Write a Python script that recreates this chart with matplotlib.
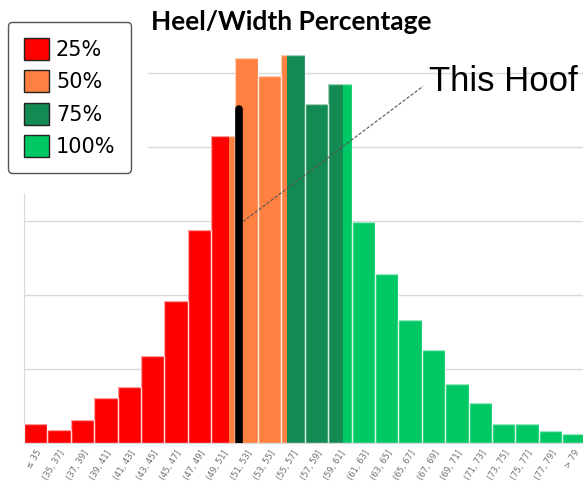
import matplotlib.pyplot as plt
from matplotlib.patches import Patch, Rectangle

# histogram bins (2% wide), counts
labels = ['≤ 35', '(35, 37]', '(37, 39]', '(39, 41]', '(41, 43]', '(43, 45]',
          '(45, 47]', '(47, 49]', '(49, 51]', '(51, 53]', '(53, 55]', '(55, 57]',
          '(57, 59]', '(59, 61]', '(61, 63]', '(63, 65]', '(65, 67]', '(67, 69]',
          '(69, 71]', '(71, 73]', '(73, 75]', '(75, 77]', '(77, 79]', '> 79']
bin_lo = [33 + 2 * i for i in range(len(labels))]
counts = [26, 18, 31, 61, 76, 118, 192, 288, 415, 520, 496, 524,
          458, 485, 299, 228, 166, 126, 80, 54, 26, 26, 16, 12]

# quartile boundaries of heel/width percentage
quartiles = [50.5, 55.5, 60.3]
groups = ['25%', '50%', '75%', '100%']
colors = ['#FF0000', '#FF8040', '#138A52', '#00C864']

hoof_value = 51.4
hoof_height = 451
pointer_from = (51.7, 299)
pointer_to = (67.1, 482)
label_at = (67.6, 488)


def to_pos(v):
    # percentage -> category axis position
    return (v - 33) / 2 - 0.5


fig = plt.figure(figsize=(5.83, 4.87), dpi=100)
ax = fig.add_axes([24 / 583, 44 / 487, 559 / 583, 443 / 487])

edges = [-1e9] + quartiles + [1e9]
for i, lo in enumerate(bin_lo):
    hi = lo + 2
    for g in range(4):
        a, b = max(lo, edges[g]), min(hi, edges[g + 1])
        if b > a:
            ax.bar(to_pos(a), counts[i], width=(b - a) / 2, align='edge',
                   color=colors[g], linewidth=0, zorder=2)
ax.bar(range(len(labels)), counts, width=1, facecolor='none',
       edgecolor=(1, 1, 1, 0.6), linewidth=1, zorder=3)

hx = to_pos(hoof_value)
ax.plot([hx, hx], [0, hoof_height], color='black', lw=5.5,
        solid_capstyle='round', zorder=4)
ax.plot([to_pos(pointer_from[0]), to_pos(pointer_to[0])],
        [pointer_from[1], pointer_to[1]], ls='--', color='#555555', lw=0.8,
        dashes=(3, 1.5), zorder=5)
ax.text(to_pos(label_at[0]), label_at[1], 'This Hoof', fontsize=25,
        family='Liberation Sans', va='center', ha='left', zorder=5)

ax.set_xlim(-0.5, -0.5 + 559 / 23.4)
ax.set_ylim(0, 443 / 0.74)
ax.set_yticks([100, 200, 300, 400, 500])
ax.set_yticklabels([])
ax.yaxis.grid(True, color='#D9D9D9', lw=1, zorder=0)
ax.set_axisbelow(True)
ax.tick_params(length=0)
ax.set_xticks(range(len(labels)))
ax.set_xticklabels(labels, rotation=58, ha='right', rotation_mode='anchor',
                   fontsize=6, color='#6F6F6F')
ax.tick_params(axis='x', pad=4)
for s in ['top', 'right']:
    ax.spines[s].set_visible(False)
for s in ['left', 'bottom']:
    ax.spines[s].set_color('#D9D9D9')

# white area behind the legend
fig.add_artist(Rectangle((0, 1 - 192 / 487), 147 / 583, 192 / 487,
                         transform=fig.transFigure, color='white', zorder=1))

fig.text(291 / 583, 1 - 22 / 487, 'Heel/Width Percentage', ha='center',
         va='center', fontsize=19, fontweight='bold', family='Lato')

handles = [Patch(facecolor=c, edgecolor='#222222', lw=1) for c in colors]
leg = fig.legend(handles, groups, loc='upper left',
                 bbox_to_anchor=(8 / 583, 1 - 22 / 487), borderaxespad=0,
                 prop={'family': 'DejaVu Sans', 'size': 15},
                 handlelength=1.2, handleheight=1.25, labelspacing=0.5,
                 handletextpad=0.35, borderpad=0.75, framealpha=1,
                 edgecolor='#555555', fancybox=True)
leg.set_zorder(6)

fig.savefig('out.png', dpi=100)
